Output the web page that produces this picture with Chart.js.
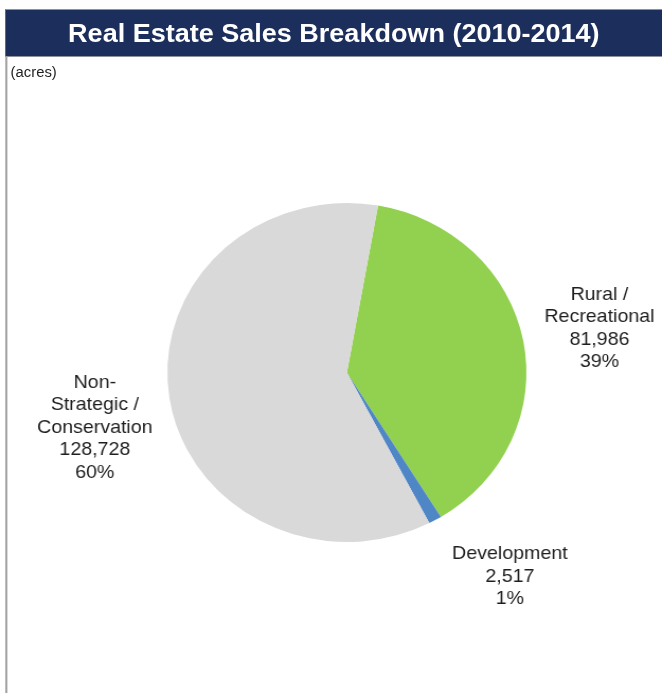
<!DOCTYPE html>
<html>
<head>
<meta charset="utf-8">
<script src="https://cdn.jsdelivr.net/npm/chart.js@4/dist/chart.umd.min.js"></script>
<style>
  html, body { margin: 0; padding: 0; background: #fff; overflow: hidden; }
  body { width: 662px; height: 693px; position: relative; font-family: "Liberation Sans", Arial, Helvetica, sans-serif; }
  #sheet {
    position: absolute; left: 0; top: 0; width: 625px; height: 693px;
    transform: scaleX(1.0592); transform-origin: 0 0;
  }
  #title {
    position: absolute; left: 4.7px; top: 9px; width: 621px; height: 46px;
    background: #1c2e5c; border-top: 1px solid #8c919b; border-bottom: 1px solid #8c919b;
    color: #fff; font-weight: bold; font-size: 25.5px; line-height: 46px; text-align: center;
    box-sizing: content-box;
  }
  #frame {
    position: absolute; left: 5.2px; top: 56px; width: 1.6px; height: 637px; background: #a3a3a3;
  }
  #unit {
    position: absolute; left: 10px; top: 64px; font-size: 14px; color: #222;
  }
  #chartBox { position: absolute; left: 0; top: 0; width: 625px; height: 693px; }
</style>
</head>
<body>
<div id="sheet">
  <div id="title">Real Estate Sales Breakdown (2010-2014)</div>
  <div id="frame"></div>
  <div id="unit">(acres)</div>
  <div id="chartBox"><canvas id="chart"></canvas></div>
</div>
<script>
// Land sold by use category, 2010-2014 (acres)
const categories = ['Rural / Recreational', 'Development', 'Non-Strategic / Conservation'];
const labelLines = [['Rural /', 'Recreational'], ['Development'], ['Non-', 'Strategic /', 'Conservation']];
const acres = [81986, 2517, 128728];
const sliceColors = ['#92d050', '#4f86c6', '#d9d9d9'];

// Whole-number shares that add up to 100 (largest remainder)
function wholeShares(values) {
  const total = values.reduce((a, b) => a + b, 0);
  const raw = values.map(v => v / total * 100);
  const out = raw.map(Math.floor);
  let left = 100 - out.reduce((a, b) => a + b, 0);
  const order = raw.map((r, i) => [r - Math.floor(r), i]).sort((a, b) => b[0] - a[0]);
  for (let k = 0; k < left; k++) out[order[k][1]] += 1;
  return out;
}
const shares = wholeShares(acres);

// Callout text placed beyond each slice, along its middle angle
const sliceCallouts = {
  id: 'sliceCallouts',
  afterDatasetsDraw(chart, args, opts) {
    const ctx = chart.ctx;
    const arcs = chart.getDatasetMeta(0).data;
    ctx.save();
    ctx.font = opts.font;
    ctx.fillStyle = opts.color;
    ctx.textAlign = 'center';
    ctx.textBaseline = 'middle';
    arcs.forEach((arc, i) => {
      const mid = (arc.startAngle + arc.endAngle) / 2;
      const r = arc.outerRadius * opts.distance;
      const nudge = opts.nudge[i];
      const cx = arc.x + Math.cos(mid) * r + nudge[0];
      const cy = arc.y + Math.sin(mid) * r + nudge[1];
      const lines = labelLines[i].concat([acres[i].toLocaleString('en-US'), shares[i] + '%']);
      const top = cy - (lines.length - 1) * opts.lineHeight / 2;
      lines.forEach((t, j) => ctx.fillText(t, cx, top + j * opts.lineHeight));
    });
    ctx.restore();
  }
};

new Chart(document.getElementById('chart'), {
  type: 'pie',
  data: {
    labels: categories,
    datasets: [{
      data: acres,
      backgroundColor: sliceColors,
      borderWidth: 0,
      hoverOffset: 0
    }]
  },
  options: {
    responsive: true,
    maintainAspectRatio: false,
    devicePixelRatio: 1,
    animation: false,
    rotation: 10,
    layout: { padding: { left: 158, right: 128, top: 203, bottom: 151 } },
    plugins: {
      legend: { display: false },
      tooltip: { enabled: false },
      sliceCallouts: {
        font: '18.5px "Liberation Sans", Arial, Helvetica, sans-serif',
        color: '#1e1e1e',
        lineHeight: 22.5,
        distance: 1.45,
        nudge: [[-3, 2], [33, -10], [5, 18]]
      }
    }
  },
  plugins: [sliceCallouts]
});
</script>
</body>
</html>
